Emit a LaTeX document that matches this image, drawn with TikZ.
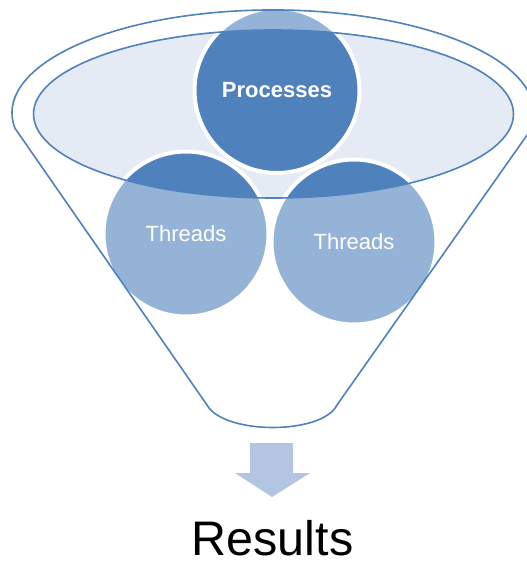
\documentclass[tikz,border=0pt]{standalone}
\usepackage{fontspec}
\setmainfont{Liberation Sans}
\definecolor{accent}{HTML}{4F81BD}
\definecolor{bowl}{HTML}{E5EBF5}
\definecolor{arrowfill}{HTML}{B3C5E1}
\begin{document}
\begin{tikzpicture}[x=1pt, y=1pt, yscale=-1,
  ball/.style={circle, fill=accent, draw=white, line width=4pt,
    minimum size=165pt, inner sep=0pt, text=white,
    font=\fontsize{22}{26}\selectfont},
  outline/.style={draw=accent, line width=1.6pt},
  funnelpath/.style={insert path={
    (14.8,128) arc[start angle=171.6, end angle=370, x radius=261, y radius=103]
    -- (337,405) .. controls (322,435) and (224,435) .. (207,405) -- cycle}},
  rimpath/.style={insert path={(273.5,114) ellipse[x radius=240, y radius=84]}}]
\useasboundingbox (0,0) rectangle (527,562);

% opening of the funnel
\fill[bowl, rimpath];

% the three balls
\node[ball, font=\bfseries\fontsize{22}{26}\selectfont] (proc) at (277,90.5) {Processes};
\node[ball] (thrA) at (186,234) {Threads};
\node[ball] (thrB) at (354,242) {Threads};

% translucent funnel body in front of the balls
\fill[white, fill opacity=0.4, even odd rule, funnelpath, rimpath];

% outlines
\path[outline, funnelpath];
\path[outline, rimpath];

% output arrow and label
\fill[arrowfill] (250,443) -- (293,443) -- (293,473) -- (310,473)
  -- (272,497) -- (235,473) -- (250,473) -- cycle;
\node[anchor=base, inner sep=0pt, font=\fontsize{48.5}{54}\selectfont] (results)
  at (272.5,555.5) {Results};
\end{tikzpicture}
\end{document}
